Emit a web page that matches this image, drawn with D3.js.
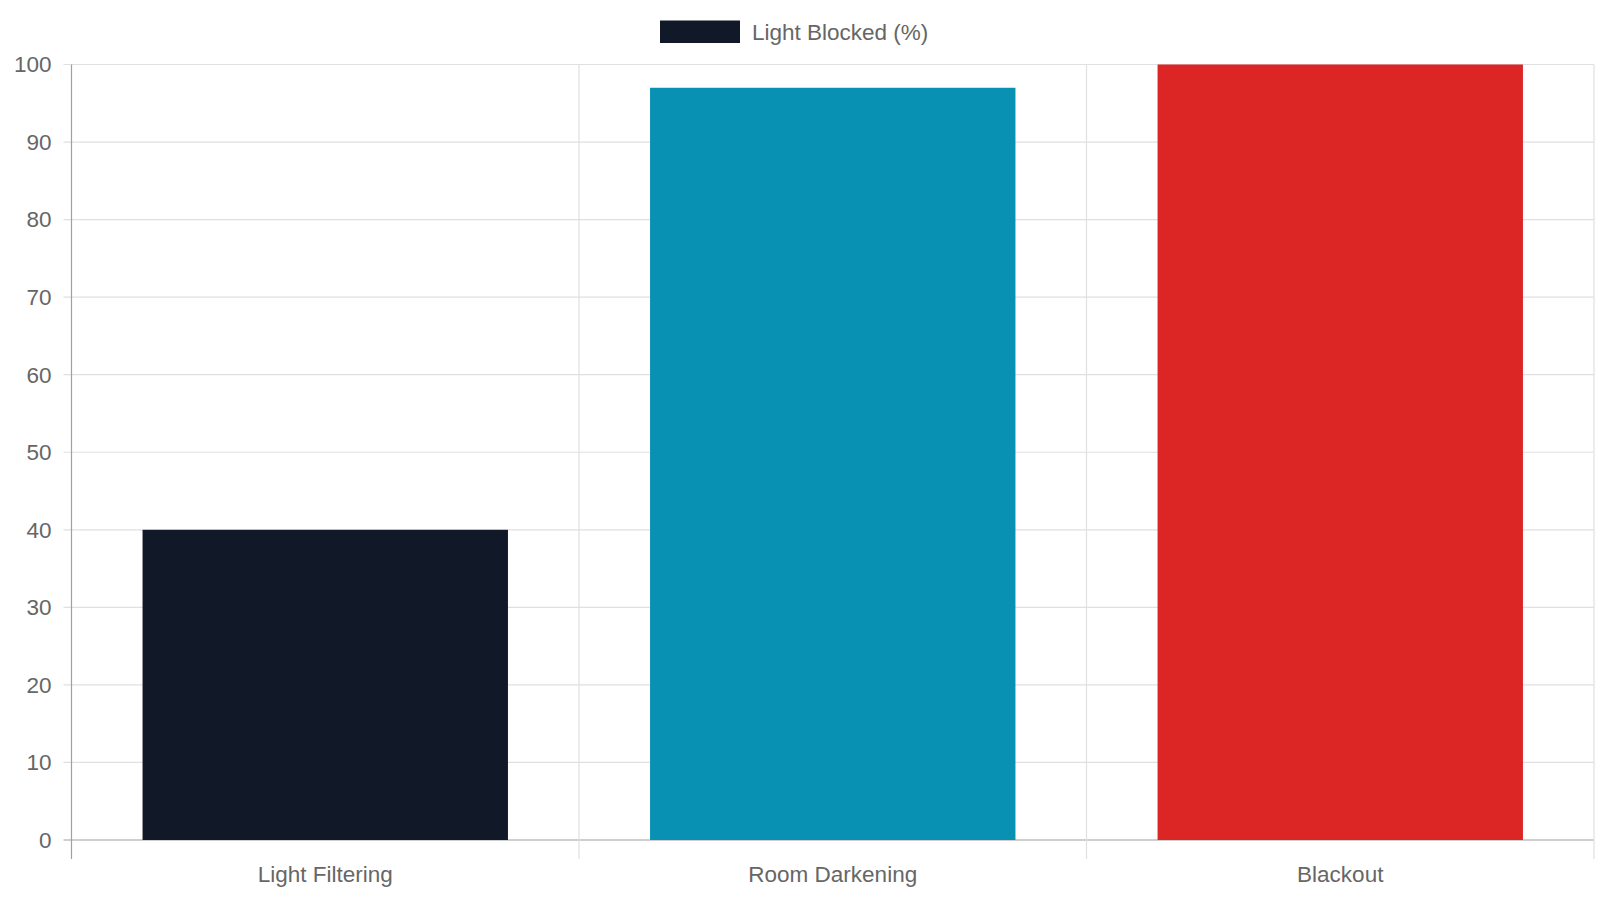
<!DOCTYPE html>
<html><head><meta charset="utf-8">
<script src="https://cdn.jsdelivr.net/npm/d3@7"></script>
<style>body{margin:0;background:#fff}text{font-family:"Liberation Sans",Arial,sans-serif}</style>
</head><body><svg id="c" width="1600" height="900"></svg>
<script>
const categories=["Light Filtering","Room Darkening","Blackout"];
const values=[40,97,100];
const colors=["#111827","#0891b2","#dc2626"];
const seriesName="Light Blocked (%)";
const yTicks=d3.range(0,101,10);

const svg=d3.select("#c");
const L=71.5,R=1594,T=64.5,B=840;
const x=d3.scaleBand().domain(categories).range([L,R]);
const y=d3.scaleLinear().domain([0,100]).range([B,T]);
const grid="#e0e0e0",axisC="#a0a0a0",txt="#666";

svg.selectAll(".hg").data(yTicks).join("line")
 .attr("x1",L-8).attr("x2",R).attr("y1",d=>y(d)).attr("y2",d=>y(d))
 .attr("stroke",d=>d===0?axisC:grid).attr("stroke-width",1.2);
const vb=categories.map(c=>x(c)).concat([R]);
svg.selectAll(".vg").data(vb).join("line")
 .attr("x1",d=>d).attr("x2",d=>d).attr("y1",T).attr("y2",B+19)
 .attr("stroke",(d,i)=>i===0?axisC:grid).attr("stroke-width",1.2);

const bw=x.bandwidth()*0.72;
svg.selectAll(".bar").data(values).join("rect")
 .attr("x",(d,i)=>x(categories[i])+(x.bandwidth()-bw)/2).attr("width",bw)
 .attr("y",d=>y(d)).attr("height",d=>B-y(d)).attr("fill",(d,i)=>colors[i]);

svg.selectAll(".yl").data(yTicks).join("text")
 .attr("x",L-20).attr("y",d=>y(d)).attr("dy","0.35em").attr("text-anchor","end")
 .attr("font-size",22.5).attr("fill",txt).text(d=>d);
svg.selectAll(".xl").data(categories).join("text")
 .attr("x",d=>x(d)+x.bandwidth()/2).attr("y",874).attr("dy","0.35em").attr("text-anchor","middle")
 .attr("font-size",22.5).attr("fill",txt).text(d=>d);

svg.append("rect").attr("x",660).attr("y",20.5).attr("width",80).attr("height",22.5).attr("fill",colors[0]);
svg.append("text").attr("x",752).attr("y",32).attr("dy","0.35em").attr("font-size",22.5).attr("fill",txt).text(seriesName);
</script></body></html>
